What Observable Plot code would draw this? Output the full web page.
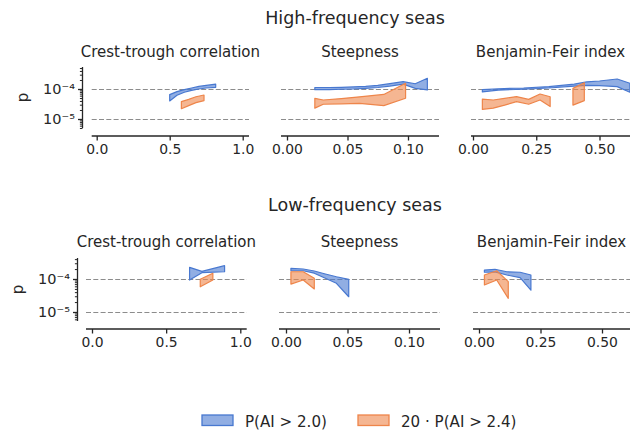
<!DOCTYPE html>
<html><head><meta charset="utf-8">
<script src="https://cdn.jsdelivr.net/npm/d3@7"></script>
<script src="https://cdn.jsdelivr.net/npm/@observablehq/plot@0.6"></script>
<style>
body{margin:0;background:#fff;}
#fig{position:relative;width:630px;height:432px;overflow:hidden;background:#fff;font-family:"DejaVu Sans",sans-serif;}
#fig svg{position:absolute;left:0;top:0;}
</style></head><body><div id="fig"></div><script>
// ---------------- data (p values in units of 1e-4) ----------------
const unit = 1e-4;
const refLines = [1e-4, 1e-5];
const majorY = [1e-5, 1e-4];
const minorYHigh = [5e-6,6e-6,7e-6,8e-6,9e-6,2e-5,3e-5,4e-5,5e-5,6e-5,7e-5,8e-5,9e-5,2e-4,3e-4,4e-4,5e-4];
const minorYLow = [6e-6,7e-6,8e-6,9e-6,2e-5,3e-5,4e-5,5e-5,6e-5,7e-5,8e-5,9e-5,2e-4,3e-4,4e-4];
const ctTicks = [0, 0.5, 1.0];
const stTicks = [0, 0.05, 0.10];
const bfiTicks = [0, 0.25, 0.50];
const rowTitles = ["High-frequency seas", "Low-frequency seas"];
const panelTitles = ["Crest-trough correlation", "Steepness", "Benjamin-Feir index"];
const legendLabels = ["P(AI > 2.0)", "20 \u00b7 P(AI > 2.4)"];

// High-frequency: crest-trough correlation
const hfCtBlueX  = [0.50, 0.55, 0.60, 0.65, 0.70, 0.75, 0.815];
const hfCtBlueLo = [0.40, 0.62, 0.78, 0.90, 1.00, 1.08, 1.14];
const hfCtBlueHi = [0.65, 0.82, 0.95, 1.08, 1.22, 1.32, 1.45];
const hfCtOrX  = [0.58, 0.63, 0.68, 0.735];
const hfCtOrLo = [0.22, 0.28, 0.35, 0.41];
const hfCtOrHi = [0.38, 0.45, 0.55, 0.63];
// High-frequency: steepness
const hfStBlueX  = [0.023, 0.035, 0.045, 0.055, 0.065, 0.075, 0.085, 0.096, 0.106, 0.116];
const hfStBlueLo = [0.95, 0.96, 0.98, 1.00, 1.05, 1.12, 1.25, 1.45, 1.05, 0.93];
const hfStBlueHi = [1.12, 1.12, 1.14, 1.17, 1.22, 1.32, 1.50, 1.75, 1.50, 2.27];
const hfStOrX  = [0.023, 0.030, 0.045, 0.060, 0.080, 0.098];
const hfStOrLo = [0.23, 0.31, 0.32, 0.33, 0.28, 0.49];
const hfStOrHi = [0.49, 0.43, 0.48, 0.55, 0.66, 1.55];
// High-frequency: Benjamin-Feir index
const hfBfBlueX  = [0.037, 0.10, 0.20, 0.30, 0.40, 0.45, 0.50, 0.57, 0.62];
const hfBfBlueLo = [0.80, 0.92, 0.98, 1.08, 1.25, 1.32, 1.30, 1.20, 0.78];
const hfBfBlueHi = [0.95, 1.02, 1.08, 1.20, 1.45, 1.72, 1.85, 2.15, 1.55];
const hfBfOrX  = [0.037, 0.080, 0.125, 0.172, 0.220, 0.265, 0.305, 0.350, 0.395, 0.440];
const hfBfOrLo = [0.21, 0.23, 0.29, 0.38, 0.31, 0.43, 0.26, null, 0.29, 0.41];
const hfBfOrHi = [0.46, 0.43, 0.49, 0.56, 0.45, 0.68, 0.55, null, 1.05, 1.62];
// Low-frequency: crest-trough correlation
const lfCtBlueX  = [0.658, 0.741, 0.894];
const lfCtBlueLo = [0.93, 1.55, 1.66];
const lfCtBlueHi = [2.26, 1.70, 2.53];
const lfCtOrX  = [0.73, 0.815];
const lfCtOrLo = [0.58, 0.93];
const lfCtOrHi = [0.98, 1.49];
// Low-frequency: steepness
const lfStBlueX  = [0.004, 0.014, 0.023, 0.032, 0.041, 0.051];
const lfStBlueLo = [1.78, 1.78, 1.50, 1.05, 0.74, 0.29];
const lfStBlueHi = [2.11, 2.01, 1.75, 1.42, 1.17, 0.98];
const lfStOrX  = [0.004, 0.014, 0.023];
const lfStOrLo = [0.70, 0.93, 0.50];
const lfStOrHi = [1.66, 1.66, 1.05];
// Low-frequency: Benjamin-Feir index
const lfBfBlueX  = [0.022, 0.065, 0.113, 0.167, 0.211];
const lfBfBlueLo = [1.60, 1.65, 1.32, 1.10, 0.46];
const lfBfBlueHi = [1.87, 1.97, 1.66, 1.60, 1.32];
const lfBfOrX  = [0.022, 0.072, 0.119];
const lfBfOrLo = [0.66, 0.93, 0.26];
const lfBfOrHi = [1.32, 1.78, 0.83];

// ---------------- styling / layout ----------------
const W = 630, H = 432;
const ink = "#262626";
const blueEdge = "#4878d0", orangeEdge = "#ee854a";
const blueFill = "#91aee3", orangeFill = "#f5b692";
const font = "DejaVu Sans";

function band(xs, lo, hi) {
  return xs.map((x, i) => ({x, lo: lo[i] == null ? null : lo[i] * unit, hi: hi[i] == null ? null : hi[i] * unit}));
}
const sup = {"-4": "\u207b\u2074", "-5": "\u207b\u2075", "-3": "\u207b\u00b3", "-6": "\u207b\u2076"};
const yFmt = d => "10" + sup[String(Math.round(Math.log10(d)))];

const rows = [
  {spineTop: 67, spineBottom: 128, xAxisY: 136, yRange: [119, 89], minor: minorYHigh},
  {spineTop: 258, spineBottom: 321, xAxisY: 329, yRange: [312, 279], minor: minorYLow}
];

const panels = [
  {row: 0, left: true, spineX: 82.5, xAxis: [91.7, 249], xDomain: [0, 1], xRange: [96.7, 242.7], ticks: ctTicks, fmt: d3.format(".1f"),
   blue: band(hfCtBlueX, hfCtBlueLo, hfCtBlueHi), orange: band(hfCtOrX, hfCtOrLo, hfCtOrHi)},
  {row: 0, xAxis: [281, 439], xDomain: [0, 0.1], xRange: [287, 408], ticks: stTicks, fmt: d3.format(".2f"),
   blue: band(hfStBlueX, hfStBlueLo, hfStBlueHi), orange: band(hfStOrX, hfStOrLo, hfStOrHi)},
  {row: 0, xAxis: [471, 630], xDomain: [0, 0.5], xRange: [473, 599.5], ticks: bfiTicks, fmt: d3.format(".2f"),
   blue: band(hfBfBlueX, hfBfBlueLo, hfBfBlueHi), orange: band(hfBfOrX, hfBfOrLo, hfBfOrHi)},
  {row: 1, left: true, spineX: 77.5, xAxis: [86, 246.7], xDomain: [0, 1], xRange: [92, 240.3], ticks: ctTicks, fmt: d3.format(".1f"),
   blue: band(lfCtBlueX, lfCtBlueLo, lfCtBlueHi), orange: band(lfCtOrX, lfCtOrLo, lfCtOrHi)},
  {row: 1, xAxis: [279, 440], xDomain: [0, 0.1], xRange: [286, 409], ticks: stTicks, fmt: d3.format(".2f"),
   blue: band(lfStBlueX, lfStBlueLo, lfStBlueHi), orange: band(lfStOrX, lfStOrLo, lfStOrHi)},
  {row: 1, xAxis: [473, 630], xDomain: [0, 0.5], xRange: [479, 602], ticks: bfiTicks, fmt: d3.format(".2f"),
   blue: band(lfBfBlueX, lfBfBlueLo, lfBfBlueHi), orange: band(lfBfOrX, lfBfOrLo, lfBfOrHi)}
];

const fig = document.getElementById("fig");

for (const cfg of panels) {
  const row = rows[cfg.row];
  const ml = cfg.xAxis[0];
  const marks = [
    Plot.ruleY(refLines, {stroke: "#8c8c8c", strokeWidth: 1.2, strokeDasharray: "5,2.3"}),
    Plot.areaY(cfg.blue, {x: "x", y1: "lo", y2: "hi", fill: blueEdge, fillOpacity: 0.6, stroke: blueEdge, strokeWidth: 1.2, curve: "linear"}),
    Plot.areaY(cfg.orange, {x: "x", y1: "lo", y2: "hi", fill: orangeEdge, fillOpacity: 0.6, stroke: orangeEdge, strokeWidth: 1.2, curve: "linear"}),
    Plot.axisX({ticks: cfg.ticks, tickFormat: cfg.fmt, tickSize: 4.5, tickPadding: 3.5, strokeWidth: 1.3,
      dy: row.xAxisY - row.spineBottom, label: null, fontSize: 13.9, fill: ink, stroke: ink})
  ];
  if (cfg.left) {
    marks.push(
      Plot.axisY({ticks: majorY, tickFormat: yFmt, tickSize: 4.5, tickPadding: 3.5, strokeWidth: 1.3,
        dx: cfg.spineX - ml, label: null, fontSize: 14.5, fill: ink, stroke: ink}),
      Plot.axisY({ticks: row.minor, tickFormat: () => "", tickSize: 2.6, strokeWidth: 1,
        dx: cfg.spineX - ml, label: null, stroke: ink})
    );
  }
  const node = Plot.plot({
    width: W, height: H,
    marginLeft: ml, marginRight: W - cfg.xAxis[1],
    marginTop: row.spineTop, marginBottom: H - row.spineBottom,
    style: {background: "transparent", color: ink, fontFamily: font, fontSize: "13.9px", overflow: "visible"},
    x: {domain: cfg.xDomain, range: cfg.xRange},
    y: {type: "log", domain: [1e-5, 1e-4], range: row.yRange, axis: cfg.left ? undefined : null},
    marks
  });
  const s = d3.select(node);
  // axis spines (offset, matplotlib-despine style)
  s.append("line").attr("x1", cfg.xAxis[0]).attr("x2", cfg.xAxis[1])
    .attr("y1", row.xAxisY).attr("y2", row.xAxisY).attr("stroke", ink).attr("stroke-width", 1.3);
  if (cfg.left) {
    s.append("line").attr("x1", cfg.spineX).attr("x2", cfg.spineX)
      .attr("y1", row.spineTop).attr("y2", row.spineBottom).attr("stroke", ink).attr("stroke-width", 1.3);
  }
  fig.appendChild(node);
}

// ---------------- titles, labels, legend ----------------
const ov = d3.create("svg").attr("width", W).attr("height", H)
  .style("font-family", font).style("fill", ink);
const titleY = [23.5, 211];
rowTitles.forEach((t, i) => ov.append("text").attr("x", 355).attr("y", titleY[i])
  .attr("text-anchor", "middle").attr("font-size", 17.5).text(t));
const ptY = [57, 246.5];
panels.forEach((cfg, i) => {
  ov.append("text").attr("x", (cfg.xAxis[0] + cfg.xAxis[1]) / 2).attr("y", ptY[cfg.row])
    .attr("text-anchor", "middle").attr("font-size", 15).text(panelTitles[i % 3]);
});
[[27.5, 97.5], [22.5, 289.5]].forEach(([x, y]) => ov.append("text")
  .attr("transform", `translate(${x},${y}) rotate(-90)`).attr("text-anchor", "middle")
  .attr("font-size", 15).text("p"));
const legend = [
  {x: 202, fill: blueFill, stroke: blueEdge, tx: 245},
  {x: 358, fill: orangeFill, stroke: orangeEdge, tx: 401}
];
legend.forEach((l, i) => {
  ov.append("rect").attr("x", l.x).attr("y", 415).attr("width", 31).attr("height", 10.5)
    .attr("fill", l.fill).attr("stroke", l.stroke).attr("stroke-width", 1.3);
  ov.append("text").attr("x", l.tx).attr("y", 426.5).attr("font-size", 15.1).text(legendLabels[i]);
});
fig.appendChild(ov.node());
</script></body></html>
